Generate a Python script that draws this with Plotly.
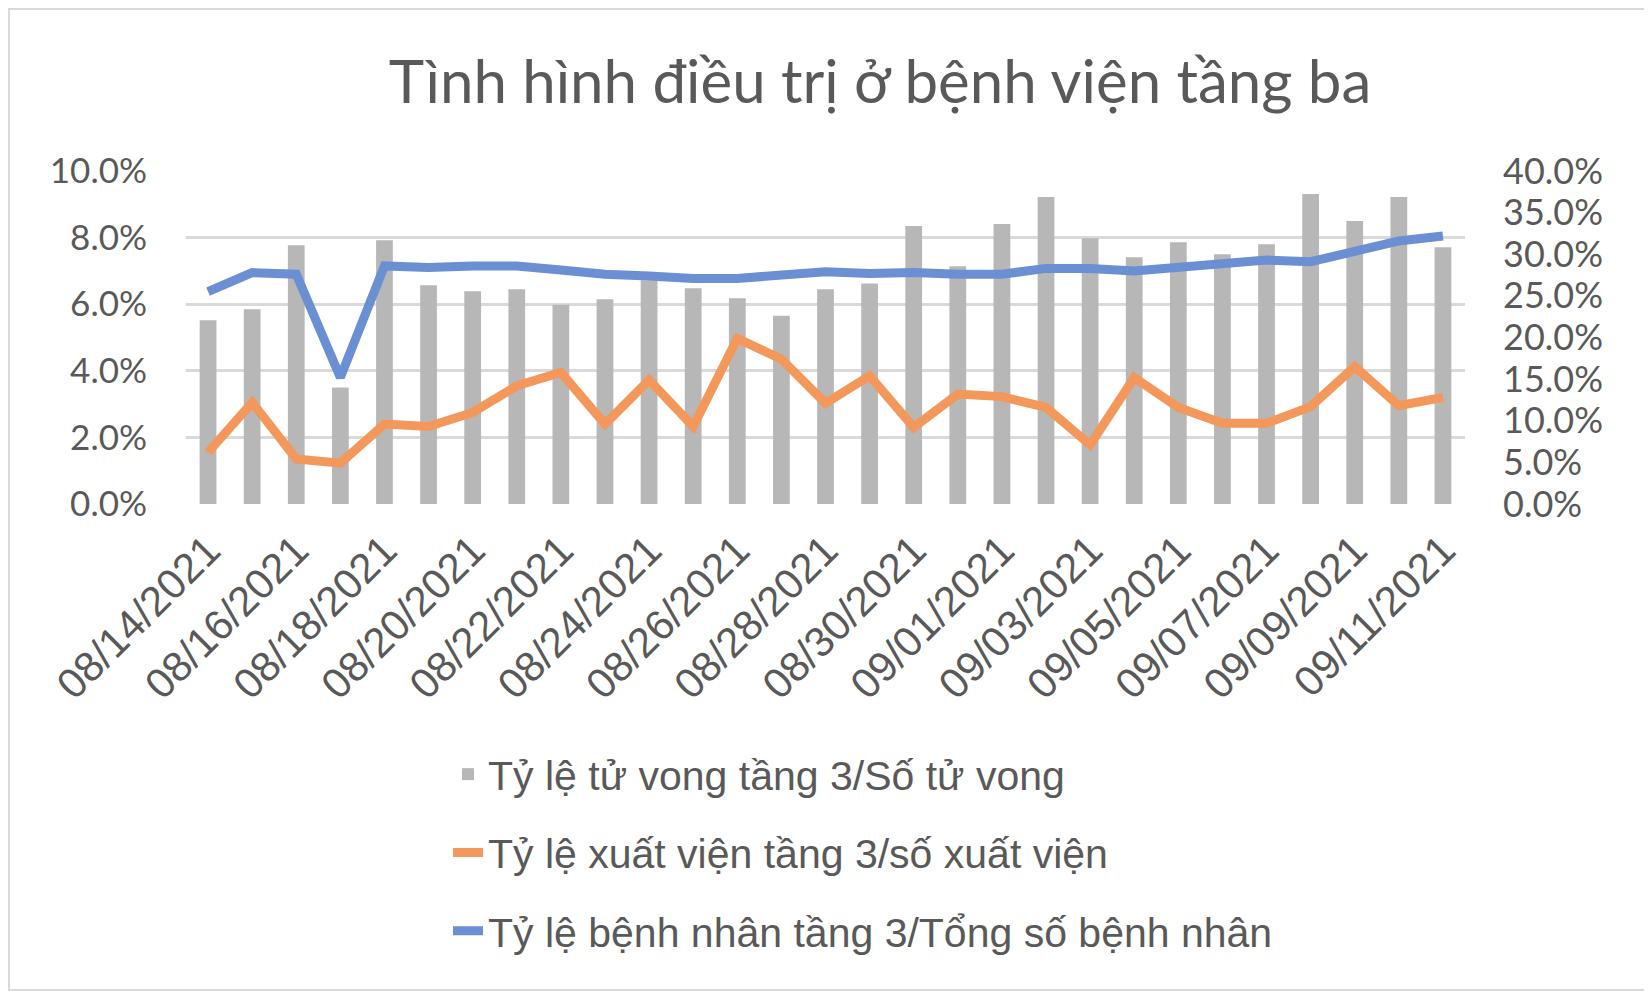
import plotly.graph_objects as go

# dates shown on the category axis
dates = [
    "08/14/2021", "08/15/2021", "08/16/2021", "08/17/2021", "08/18/2021",
    "08/19/2021", "08/20/2021", "08/21/2021", "08/22/2021", "08/23/2021",
    "08/24/2021", "08/25/2021", "08/26/2021", "08/27/2021", "08/28/2021",
    "08/29/2021", "08/30/2021", "08/31/2021", "09/01/2021", "09/02/2021",
    "09/03/2021", "09/04/2021", "09/05/2021", "09/06/2021", "09/07/2021",
    "09/08/2021", "09/09/2021", "09/10/2021", "09/11/2021",
]

# left axis (bars), fraction
ty_le_tu_vong = [
    0.0552, 0.0585, 0.0777, 0.0350, 0.0792, 0.0657, 0.0639, 0.0645, 0.0598, 0.0615,
    0.0672, 0.0648, 0.0618, 0.0565, 0.0645, 0.0662, 0.0835, 0.0714, 0.0841, 0.0922,
    0.0798, 0.0741, 0.0786, 0.0750, 0.0780, 0.0931, 0.0850, 0.0922, 0.0771,
]

# right axis (lines), fraction
ty_le_xuat_vien = [
    0.062, 0.122, 0.054, 0.049, 0.096, 0.093, 0.110, 0.142, 0.158, 0.096,
    0.149, 0.093, 0.199, 0.174, 0.121, 0.154, 0.092, 0.132, 0.129, 0.116,
    0.071, 0.152, 0.116, 0.097, 0.097, 0.117, 0.165, 0.118, 0.128,
]

ty_le_benh_nhan = [
    0.255, 0.278, 0.276, 0.152, 0.286, 0.284, 0.286, 0.286, 0.281, 0.276,
    0.274, 0.271, 0.271, 0.275, 0.279, 0.277, 0.278, 0.276, 0.276, 0.283,
    0.283, 0.280, 0.285, 0.288, 0.293, 0.291, 0.303, 0.316, 0.322,
]

names = [
    "Tỷ lệ tử vong tầng 3/Số tử vong",
    "Tỷ lệ xuất viện tầng 3/số xuất viện",
    "Tỷ lệ bệnh nhân tầng 3/Tổng số bệnh nhân",
]

W, H = 1652, 993
# page body has an 8px margin, so the figure sits 8px right/down
L, R, T, B = 178, 195, 163, 497
text_col = "#595959"

fig = go.Figure()
fig.add_trace(go.Bar(x=dates, y=ty_le_tu_vong, name=names[0], legendgroup="a",
                     marker=dict(color="#b7b7b7", line=dict(width=0))))
fig.add_trace(go.Scatter(x=dates, y=ty_le_xuat_vien, name=names[1], legendgroup="b",
                         mode="lines", yaxis="y2",
                         line=dict(color="#f3975a", width=9)))
fig.add_trace(go.Scatter(x=dates, y=ty_le_benh_nhan, name=names[2], legendgroup="c",
                         mode="lines", yaxis="y2",
                         line=dict(color="#6a8fd3", width=9)))

pw = W - L - R
ph = H - T - B

fig.update_layout(
    width=W, height=H,
    margin=dict(l=L, r=R, t=T, b=B, autoexpand=False),
    paper_bgcolor="white", plot_bgcolor="white",
    bargap=0.62,
    title=dict(text="Tình hình điều trị ở bệnh viện tầng ba", x=872 / W, xanchor="center",
               y=1 - 74 / H, yanchor="middle",
               font=dict(family="Lato", size=60, color=text_col)),
    xaxis=dict(type="category", tickvals=dates[::2], tickangle=-45,
               tickfont=dict(family="Liberation Sans", size=42, color=text_col),
               showgrid=False, showline=False, ticks="", ticklabelstandoff=12,
               automargin=False),
    yaxis=dict(range=[0, 0.10], dtick=0.02, tickformat=".1%",
               tickfont=dict(family="Lato", size=35, color=text_col),
               showgrid=True, gridcolor="#d9d9d9", gridwidth=2.5, zeroline=False,
               showline=False, ticks="", ticklabelstandoff=38, automargin=False),
    yaxis2=dict(range=[0, 0.40], dtick=0.05, tickformat=".1%", overlaying="y", side="right",
                tickfont=dict(family="Lato", size=36, color=text_col),
                showgrid=False, zeroline=False, showline=False, ticks="",
                ticklabelstandoff=37, automargin=False),
    legend=dict(x=(440 - L) / pw, xanchor="left", y=(H - B - 733) / ph, yanchor="top",
                orientation="v", traceorder="grouped", tracegroupgap=22,
                font=dict(family="Liberation Sans", size=41, color=text_col),
                bgcolor="rgba(0,0,0,0)"),
    showlegend=True,
    shapes=[dict(type="rect", xref="paper", yref="paper",
                 x0=-(L - 1) / pw, x1=1 + (R - 11) / pw,
                 y0=-(B - 11) / ph, y1=1 + (T - 1) / ph,
                 line=dict(color="#d9d9d9", width=2), layer="below")],
)

fig.write_html("out.html")
